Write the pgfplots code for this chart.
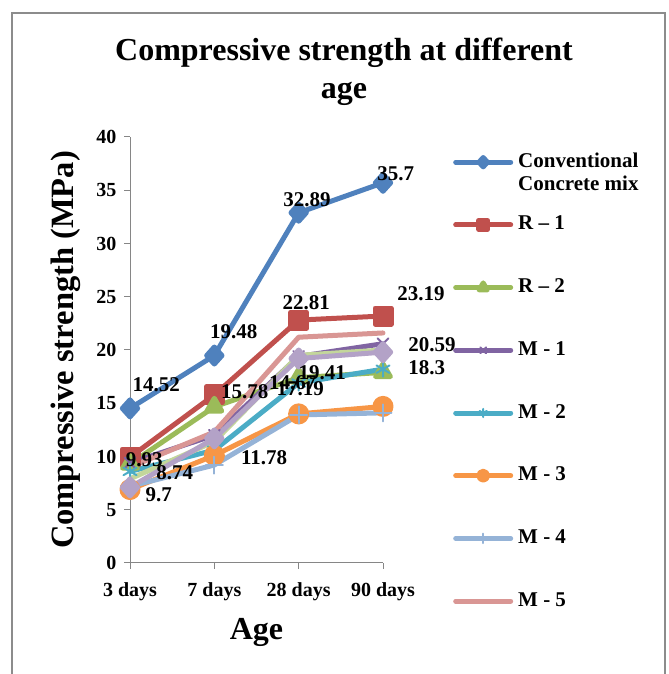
\documentclass[border=0pt]{standalone}
\usepackage{pgfplots}
\pgfplotsset{compat=1.18}
\usepackage{fontspec}
\setmainfont{Liberation Serif}
\definecolor{cblue}{HTML}{4F81BD}
\definecolor{cred}{HTML}{C0504D}
\definecolor{cgreen}{HTML}{9BBB59}
\definecolor{cpurple}{HTML}{8064A2}
\definecolor{cteal}{HTML}{4BACC6}
\definecolor{corange}{HTML}{F79646}
\definecolor{clblue}{HTML}{95B3D7}
\definecolor{cpink}{HTML}{D99694}
\definecolor{clgreen}{HTML}{C3D69B}
\definecolor{clav}{HTML}{B3A2C7}
\definecolor{axgray}{HTML}{868686}
\definecolor{framegray}{HTML}{8C8C8C}
\newcommand{\lblfont}{\fontsize{21bp}{23bp}\selectfont\bfseries}
\begin{document}
\begin{tikzpicture}[x=1bp,y=1bp]
\begin{axis}[
  set layers,
  at={(130bp,111bp)}, anchor=south west,
  scale only axis, width=253bp, height=426bp,
  xmin=0, xmax=3, ymin=0, ymax=40,
  clip=false,
  axis lines=left,
  axis line style={draw=axgray, line width=1bp, -},
  xtick={0,1,2,3}, xticklabels={3 days,7 days,28 days,90 days},
  ytick={0,5,...,40},
  tick align=outside, major tick length=6bp,
  tick style={draw=axgray, line width=1bp},
  ticklabel style={font=\fontsize{20bp}{24bp}\selectfont\bfseries},
  xticklabel style={yshift=-10bp},
  yticklabel style={xshift=-4bp},
  /pgf/number format/assume math mode=true,
  title={Compressive strength at different\\age},
  title style={font=\fontsize{32bp}{38bp}\selectfont\bfseries, align=center,
    at={(axis description cs:0.846,1.139)}, anchor=center},
  ylabel={Compressive strength (MPa)},
  ylabel style={font=\fontsize{32.5bp}{36bp}\selectfont\bfseries,
    at={(axis description cs:-0.253,0.5)}, anchor=center},
  xlabel={Age},
  xlabel style={font=\fontsize{32bp}{36bp}\selectfont\bfseries,
    at={(axis description cs:0.5,-0.162)}, anchor=center},
  legend cell align=left,
  legend style={at={(1,1)}, anchor=north west, xshift=70bp, yshift=-13bp,
    draw=none, fill=none, inner sep=0pt, row sep=38.7bp, column sep=3bp,
    nodes={font=\lblfont, text height=15bp, text depth=5bp, inner sep=2bp}},
  legend image code/.code={\draw[mark repeat=2,mark phase=2,#1,every mark/.append style={scale=0.55}] plot coordinates {(0bp,0bp) (27.5bp,0bp) (55bp,0bp)};},
  every axis plot/.append style={line width=5bp, line cap=round, line join=round},
]
\addplot[color=cblue, mark=diamond*, mark size=8.5bp, mark options={solid, xscale=1.2}]
  coordinates {(0,14.52)(1,19.48)(2,32.89)(3,35.7)};
\addlegendentry{\raisebox{0pt}[\height][0pt]{\begin{tabular}[t]{@{}l@{}}Conventional\\Concrete mix\end{tabular}}}
\addplot[color=cred, mark=square*, mark size=8bp, mark options={solid}]
  coordinates {(0,9.93)(1,15.78)(2,22.81)(3,23.19)};
\addlegendentry{R -- 1}
\addplot[color=cgreen, mark=triangle*, mark size=8.5bp, mark options={solid}]
  coordinates {(0,9.3)(1,14.67)(2,17.4)(3,17.9)};
\addlegendentry{R -- 2}
\addplot[color=cpurple, mark=x, mark size=7.5bp, mark options={solid, line width=2bp}]
  coordinates {(0,9.4)(1,12.0)(2,19.4)(3,20.59)};
\addlegendentry{M - 1}
\addplot[color=cteal, mark=asterisk, mark size=7.5bp, mark options={solid, line width=2bp}]
  coordinates {(0,8.6)(1,10.6)(2,16.9)(3,18.2)};
\addlegendentry{M - 2}
\addplot[color=corange, mark=*, mark size=8bp, mark options={solid}]
  coordinates {(0,6.9)(1,10.1)(2,14.0)(3,14.7)};
\addlegendentry{M - 3}
\addplot[color=clblue, mark=+, mark size=8.5bp, mark options={solid, line width=2bp}]
  coordinates {(0,7.2)(1,9.2)(2,13.9)(3,14.1)};
\addlegendentry{M - 4}
\addplot[color=cpink, no markers]
  coordinates {(0,9.0)(1,12.3)(2,21.2)(3,21.6)};
\addlegendentry{M - 5}
\addplot[color=clgreen, no markers, forget plot]
  coordinates {(0,7.9)(1,11.4)(2,19.5)(3,20.0)};
\addplot[color=clav, mark=diamond*, mark size=8.5bp, mark options={solid, xscale=1.2}, forget plot]
  coordinates {(0,7.1)(1,11.7)(2,19.2)(3,19.8)};
% data labels
\begin{pgfonlayer}{axis foreground}
\node[font=\lblfont] at (axis cs:0.31,16.7) {14.52};
\node[font=\lblfont] at (axis cs:1.23,21.7) {19.48};
\node[font=\lblfont] at (axis cs:2.10,34.1) {32.89};
\node[font=\lblfont] at (axis cs:3.15,36.6) {35.7};
\node[font=\lblfont] at (axis cs:2.09,24.4) {22.81};
\node[font=\lblfont] at (axis cs:3.45,25.3) {23.19};
\node[font=\lblfont] at (axis cs:1.36,16.1) {15.78};
\node[font=\lblfont] at (axis cs:0.17,9.7) {9.93};
\node[font=\lblfont] at (axis cs:0.53,8.5) {8.74};
\node[font=\lblfont] at (axis cs:0.34,6.4) {9.7};
\node[font=\lblfont] at (axis cs:1.59,9.9) {11.78};
\node[font=\lblfont] at (axis cs:1.93,16.9) {14.67};
\node[font=\lblfont] at (axis cs:2.02,16.4) {17.19};
\node[font=\lblfont] at (axis cs:2.28,17.9) {19.41};
\node[font=\lblfont] at (axis cs:3.58,20.5) {20.59};
\node[font=\lblfont] at (axis cs:3.52,18.3) {18.3};
\end{pgfonlayer}
\end{axis}
\draw[color=framegray, line width=1.5bp] (12bp,-30bp) rectangle (665bp,661bp);
\pgfresetboundingbox
\useasboundingbox (0bp,0bp) rectangle (669bp,674bp);
\end{tikzpicture}
\end{document}
